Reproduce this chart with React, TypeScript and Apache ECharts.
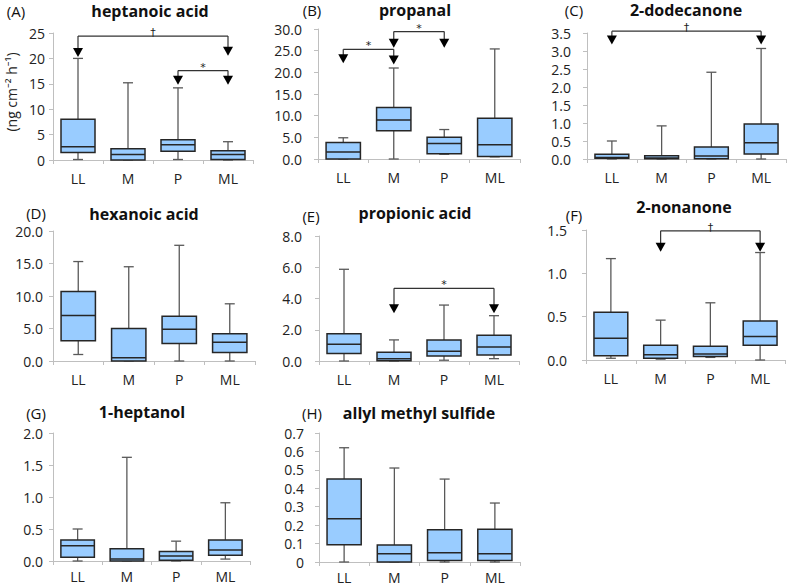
import React, { useEffect, useRef } from 'react'
import * as echarts from 'echarts'

const CATEGORIES = ['LL', 'M', 'P', 'ML']

// [min, Q1, median, Q3, max] per category
const heptanoicAcid = [[0.1, 1.5, 2.6, 8.0, 20.0], [0, 0, 1.1, 2.2, 15.2], [0.1, 1.7, 3.0, 4.0, 14.2], [0, 0.1, 1.1, 1.8, 3.6]]
const propanal = [[0, 0, 1.6, 3.8, 4.9], [0, 6.5, 9.0, 11.9, 21.0], [1.1, 1.2, 3.6, 5.0, 6.8], [0.5, 0.6, 3.3, 9.4, 25.4]]
const dodecanone = [[0, 0.02, 0.04, 0.13, 0.5], [0, 0.01, 0.03, 0.09, 0.92], [0, 0.01, 0.08, 0.33, 2.41], [0, 0.14, 0.45, 0.97, 3.07]]
const hexanoicAcid = [[1.0, 3.1, 7.0, 10.7, 15.3], [0, 0, 0.5, 5.0, 14.5], [0, 2.7, 4.9, 6.9, 17.8], [0, 1.3, 2.9, 4.2, 8.8]]
const propionicAcid = [[0, 0.48, 1.07, 1.75, 5.87], [0, 0.02, 0.15, 0.56, 1.35], [0.05, 0.32, 0.62, 1.35, 3.58], [0.15, 0.38, 0.9, 1.65, 2.9]]
const nonanone = [[0.02, 0.05, 0.25, 0.55, 1.17], [0.01, 0.02, 0.06, 0.17, 0.46], [0.03, 0.04, 0.07, 0.16, 0.66], [0, 0.17, 0.27, 0.45, 1.24]]
const heptanol = [[0, 0.06, 0.24, 0.33, 0.5], [0, 0, 0.03, 0.19, 1.62], [0, 0.01, 0.08, 0.15, 0.31], [0.03, 0.09, 0.17, 0.33, 0.91]]
const allylMethylSulfide = [[0, 0.093, 0.235, 0.45, 0.62], [0, 0, 0.045, 0.092, 0.51], [0, 0.008, 0.05, 0.175, 0.45], [0, 0.008, 0.045, 0.178, 0.32]]

// significance brackets: [from, to, bracket y, arrow tip at from, arrow tip at to]
const heptanoicMarks = [[0, 3, 24.4, 20.3, 20.5], [2, 3, 17.6, 14.8, 14.8]]
const heptanoicSigns = ['†', '*']
const propanalMarks = [[0, 1, 25.3, 22.1, 21.8], [1, 2, 29.4, 25.7, 25.7]]
const propanalSigns = ['*', '*']
const dodecanoneMarks = [[0, 3, 3.55, 3.18, 3.18]]
const dodecanoneSigns = ['†']
const propionicMarks = [[1, 3, 4.65, 3.05, 3.05]]
const propionicSigns = ['*']
const nonanoneMarks = [[1, 3, 1.49, 1.25, 1.25]]
const nonanoneSigns = ['†']

const FONT = '"Open Sans", "Noto Sans", sans-serif'

const panels = [
  { tag: '(A)', title: 'heptanoic acid', boxes: heptanoicAcid, marks: heptanoicMarks, signs: heptanoicSigns, max: 25, step: 5, digits: 0, grid: [53, 33, 200, 127], gap: 8, xGap: 11, tagPos: [16, 11], titlePos: [150, 11] },
  { tag: '(B)', title: 'propanal', boxes: propanal, marks: propanalMarks, signs: propanalSigns, max: 30, step: 5, digits: 1, grid: [318, 29, 202, 130], gap: 16, xGap: 11, tagPos: [312, 10], titlePos: [415, 10] },
  { tag: '(C)', title: '2-dodecanone', boxes: dodecanone, marks: dodecanoneMarks, signs: dodecanoneSigns, max: 3.5, step: 0.5, digits: 1, grid: [587, 33, 199, 126], gap: 16, xGap: 11, tagPos: [574, 10], titlePos: [686, 10] },
  { tag: '(D)', title: 'hexanoic acid', boxes: hexanoicAcid, marks: [], signs: [], max: 20, step: 5, digits: 1, grid: [53, 231, 202, 130], gap: 10, xGap: 11, tagPos: [36, 213], titlePos: [144, 214] },
  { tag: '(E)', title: 'propionic acid', boxes: propionicAcid, marks: propionicMarks, signs: propionicSigns, max: 8, step: 2, digits: 1, grid: [319, 236, 200, 125], gap: 17, xGap: 11, tagPos: [311, 216], titlePos: [415, 213] },
  { tag: '(F)', title: '2-nonanone', boxes: nonanone, marks: nonanoneMarks, signs: nonanoneSigns, max: 1.5, step: 0.5, digits: 1, grid: [586, 230, 199, 130], gap: 19, xGap: 11, tagPos: [574, 215], titlePos: [684, 207] },
  { tag: '(G)', title: '1-heptanol', boxes: heptanol, marks: [], signs: [], max: 2, step: 0.5, digits: 1, grid: [53, 433, 197, 128], gap: 10, xGap: 8, tagPos: [36, 413], titlePos: [142, 412] },
  { tag: '(H)', title: 'allyl methyl sulfide', boxes: allylMethylSulfide, marks: [], signs: [], max: 0.7, step: 0.1, digits: 1, zeroPlain: true, grid: [319, 433, 201, 129], gap: 15, xGap: 8, tagPos: [312, 413], titlePos: [419, 413] },
]

const boxRender = (params: any, api: any) => {
  const i = api.value(0)
  const pMin = api.coord([i, api.value(1)])
  const pQ1 = api.coord([i, api.value(2)])
  const pMed = api.coord([i, api.value(3)])
  const pQ3 = api.coord([i, api.value(4)])
  const pMax = api.coord([i, api.value(5)])
  const band = api.size([1, 0])[0]
  const hw = band * 0.34
  const x = pMed[0]
  const whisker = { stroke: '#595959', lineWidth: 1.3 }
  const edge = { stroke: '#262626', lineWidth: 1.5 }
  return {
    type: 'group',
    children: [
      { type: 'line', shape: { x1: x, y1: pQ3[1], x2: x, y2: pMax[1] }, style: whisker },
      { type: 'line', shape: { x1: x, y1: pQ1[1], x2: x, y2: pMin[1] }, style: whisker },
      { type: 'line', shape: { x1: x - 5, y1: pMax[1], x2: x + 5, y2: pMax[1] }, style: whisker },
      { type: 'line', shape: { x1: x - 5, y1: pMin[1], x2: x + 5, y2: pMin[1] }, style: whisker },
      { type: 'rect', shape: { x: x - hw, y: pQ3[1], width: hw * 2, height: pQ1[1] - pQ3[1] }, style: { fill: '#99CCFF', ...edge } },
      { type: 'line', shape: { x1: x - hw, y1: pMed[1], x2: x + hw, y2: pMed[1] }, style: edge },
    ],
  }
}

const makeMarkRender = (signs: string[]) => (params: any, api: any) => {
  const a = api.value(0)
  const b = api.value(1)
  const top1 = api.coord([a, api.value(2)])
  const top2 = api.coord([b, api.value(2)])
  const tip1 = api.coord([a, api.value(3)])
  const tip2 = api.coord([b, api.value(4)])
  const line = { stroke: '#333', lineWidth: 1.2 }
  const head = (p: number[]) => ({
    type: 'polygon',
    shape: { points: [[p[0] - 5, p[1] - 9], [p[0] + 5, p[1] - 9], [p[0], p[1]]] },
    style: { fill: '#000' },
  })
  return {
    type: 'group',
    children: [
      { type: 'line', shape: { x1: top1[0], y1: top1[1], x2: top2[0], y2: top2[1] }, style: line },
      { type: 'line', shape: { x1: top1[0], y1: top1[1], x2: tip1[0], y2: tip1[1] - 8 }, style: line },
      { type: 'line', shape: { x1: top2[0], y1: top2[1], x2: tip2[0], y2: tip2[1] - 8 }, style: line },
      head(tip1),
      head(tip2),
      {
        type: 'text',
        x: (top1[0] + top2[0]) / 2,
        y: top1[1] + 2,
        style: { text: signs[params.dataIndex], font: '11px "DejaVu Sans", sans-serif', fill: '#222', align: 'center', verticalAlign: 'bottom' },
      },
    ],
  }
}

const App: React.FC = () => {
  const chartRef = useRef<HTMLDivElement>(null)

  useEffect(() => {
    if (!chartRef.current) return
    document.body.style.margin = '0'
    const chart = echarts.init(chartRef.current, null, { renderer: 'svg' })

    const grid = panels.map(p => ({ left: p.grid[0], top: p.grid[1], width: p.grid[2], height: p.grid[3] }))
    const xAxis = panels.map((p, i) => ({
      type: 'category',
      gridIndex: i,
      data: CATEGORIES,
      axisLine: { lineStyle: { color: '#BFBFBF', width: 1 } },
      axisTick: { show: true, length: 4, lineStyle: { color: '#BFBFBF' } },
      axisLabel: { color: '#222', fontSize: 14, fontFamily: FONT, margin: p.xGap },
    }))
    const yAxis = panels.map((p: any, i) => ({
      type: 'value',
      gridIndex: i,
      min: 0,
      max: p.max,
      interval: p.step,
      splitLine: { show: false },
      axisLine: { show: true, lineStyle: { color: '#BFBFBF', width: 1 } },
      axisTick: { show: true, length: 4, lineStyle: { color: '#BFBFBF' } },
      axisLabel: {
        color: '#222',
        fontSize: 14,
        fontFamily: FONT,
        margin: p.gap,
        formatter: (v: number) => (p.zeroPlain && v === 0 ? '0' : v.toFixed(p.digits)),
      },
    }))

    const series: any[] = []
    panels.forEach((p, i) => {
      series.push({
        type: 'custom',
        xAxisIndex: i,
        yAxisIndex: i,
        itemStyle: { color: '#99CCFF' },
        renderItem: boxRender,
        encode: { x: 0, y: [1, 2, 3, 4, 5] },
        data: p.boxes.map((b, k) => [k, ...b]),
      })
      if (p.marks.length) {
        series.push({
          type: 'custom',
          xAxisIndex: i,
          yAxisIndex: i,
          clip: false,
          itemStyle: { color: '#333' },
          renderItem: makeMarkRender(p.signs),
          encode: { x: [0, 1], y: [2, 3, 4] },
          data: p.marks,
        })
      }
    })

    const texts: any[] = []
    panels.forEach(p => {
      texts.push({
        type: 'text', x: p.tagPos[0], y: p.tagPos[1],
        style: { text: p.tag, font: `15px ${FONT}`, fill: '#111', textAlign: 'center', textVerticalAlign: 'middle' },
      })
      texts.push({
        type: 'text', x: p.titlePos[0], y: p.titlePos[1],
        style: { text: p.title, font: `bold 16px ${FONT}`, fill: '#111', textAlign: 'center', textVerticalAlign: 'middle' },
      })
    })
    texts.push({
      type: 'text', x: 11, y: 92, rotation: Math.PI / 2,
      style: { text: '(ng cm⁻² h⁻¹)', font: `14px ${FONT}`, fill: '#222', textAlign: 'center', textVerticalAlign: 'middle' },
    })

    chart.setOption({
      animation: false,
      backgroundColor: '#fff',
      grid,
      xAxis,
      yAxis,
      series,
      graphic: { elements: texts },
    })

    return () => {
      chart.dispose()
    }
  }, [])

  return <div ref={chartRef} style={{ width: '787px', height: '586px' }} />
}

export default App
